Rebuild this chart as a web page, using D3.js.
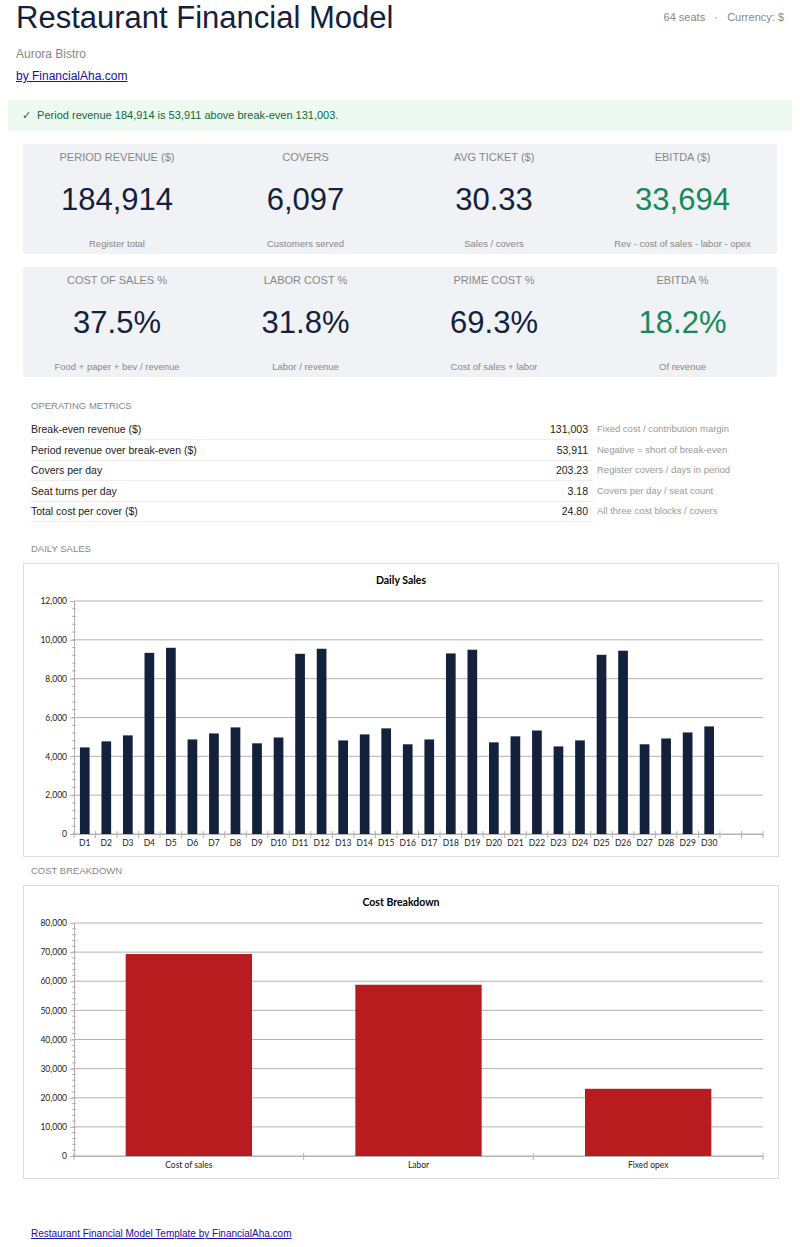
<!DOCTYPE html>
<html><head><meta charset="utf-8">
<script src="https://cdn.jsdelivr.net/npm/d3@7"></script>
<style>
body{margin:0;font-family:"Liberation Sans",Arial,sans-serif;background:#fff;width:800px;}
.wrap{position:relative;width:800px;height:1247px;}
h1{position:absolute;left:16px;top:0;margin:0;font-size:31px;font-weight:normal;color:#14213d;}
.meta{position:absolute;right:16px;top:11px;font-size:11px;color:#888;}
.sub{position:absolute;left:16px;top:47px;font-size:12px;color:#888;}
.by{position:absolute;left:16px;top:69px;font-size:12px;color:#1a0dab;text-decoration:underline;}
.alert{position:absolute;left:8px;top:100px;width:784px;height:31px;background:#eef9f1;color:#0b6b3a;font-size:11px;line-height:31px;box-sizing:border-box;padding-left:14px;}
.cards{position:absolute;left:23px;width:754px;height:110px;background:#f0f2f5;border-radius:3px;}
.card{position:absolute;top:0;width:188px;text-align:center;}
.card .t{position:absolute;top:7px;width:100%;font-size:11px;color:#888;}
.card .v{position:absolute;top:38px;width:100%;font-size:31px;color:#14213d;}
.card .s{position:absolute;top:94px;width:100%;font-size:9.5px;color:#888;}
.green{color:#148a57!important;}
.sec{position:absolute;left:31px;font-size:9.5px;color:#888;}
.row{position:absolute;left:31px;width:562px;height:20px;border-bottom:1px solid #eee;font-size:10.5px;color:#222;line-height:20px;}
.row .n{position:absolute;right:5px;}
.row .d{position:absolute;left:566px;width:200px;color:#999;font-size:9.5px;}
.box{position:absolute;left:23px;width:754px;border:1px solid #ddd;}
.foot{position:absolute;left:31px;top:1228px;font-size:10px;color:#1a0dab;text-decoration:underline;}
svg text{font-family:Lato,"Liberation Sans",sans-serif;}
</style></head><body><div class="wrap">
<h1>Restaurant Financial Model</h1>
<div class="meta">64 seats &nbsp; · &nbsp; Currency: $</div>
<div class="sub">Aurora Bistro</div>
<div class="by">by FinancialAha.com</div>
<div class="alert">✓ &nbsp;Period revenue 184,914 is 53,911 above break-even 131,003.</div>
<div class="cards" id="c1" style="top:144px"></div>
<div class="cards" id="c2" style="top:267px"></div>
<div class="sec" style="top:400px">OPERATING METRICS</div>
<div id="rows"></div>
<div class="sec" style="top:543px">DAILY SALES</div>
<div class="box" style="top:563px;height:292px"><svg id="daily" width="754" height="292"></svg></div>
<div class="sec" style="top:865px">COST BREAKDOWN</div>
<div class="box" style="top:885px;height:292px"><svg id="cost" width="754" height="292"></svg></div>
<div class="foot">Restaurant Financial Model Template by FinancialAha.com</div>
</div>
<script>
const kpiTitles1 = ["PERIOD REVENUE ($)", "COVERS", "AVG TICKET ($)", "EBITDA ($)"];
const kpiValues1 = ["184,914", "6,097", "30.33", "33,694"];
const kpiSubs1 = ["Register total", "Customers served", "Sales / covers", "Rev - cost of sales - labor - opex"];
const kpiTitles2 = ["COST OF SALES %", "LABOR COST %", "PRIME COST %", "EBITDA %"];
const kpiValues2 = ["37.5%", "31.8%", "69.3%", "18.2%"];
const kpiSubs2 = ["Food + paper + bev / revenue", "Labor / revenue", "Cost of sales + labor", "Of revenue"];
const metricNames = ["Break-even revenue ($)", "Period revenue over break-even ($)", "Covers per day", "Seat turns per day", "Total cost per cover ($)"];
const metricValues = ["131,003", "53,911", "203.23", "3.18", "24.80"];
const metricNotes = ["Fixed cost / contribution margin", "Negative = short of break-even", "Register covers / days in period", "Covers per day / seat count", "All three cost blocks / covers"];
const days = d3.range(1, 31).map(i => "D" + i);
const dailySales = [4460,4770,5080,9330,9590,4870,5180,5490,4670,4970,9280,9540,4820,5130,5440,4620,4870,9300,9490,4720,5030,5330,4510,4820,9230,9440,4620,4920,5230,5540];
const costCats = ["Cost of sales", "Labor", "Fixed opex"];
const costValues = [69343, 58803, 23074];

function cards(id, t, v, s) {
  const c = d3.select(id).selectAll(".card").data(t).join("div").attr("class", "card")
    .style("left", (d, i) => (i * 188.5) + "px");
  c.append("div").attr("class", "t").text(d => d);
  c.append("div").attr("class", (d, i) => "v" + (i === 3 ? " green" : "")).text((d, i) => v[i]);
  c.append("div").attr("class", "s").text((d, i) => s[i]);
}
cards("#c1", kpiTitles1, kpiValues1, kpiSubs1);
cards("#c2", kpiTitles2, kpiValues2, kpiSubs2);

const r = d3.select("#rows").selectAll(".row").data(metricNames).join("div").attr("class", "row")
  .style("top", (d, i) => (419 + i * 20.5) + "px");
r.append("span").text(d => d);
r.append("span").attr("class", "n").text((d, i) => metricValues[i]);
r.append("span").attr("class", "d").text((d, i) => metricNotes[i]);

function barChart(sel, title, cats, vals, slots, yMax, yStep, minorStep, color, pad) {
  const svg = d3.select(sel);
  const m = { l: 50, r: 15, t: 37, b: 22 };
  const w = 754 - m.l - m.r, h = 292 - m.t - m.b;
  svg.append("text").attr("x", 377).attr("y", 20).attr("text-anchor", "middle")
    .attr("font-size", 10.5).attr("font-weight", "bold").text(title);
  const g = svg.append("g").attr("transform", `translate(${m.l},${m.t})`);
  const x = d3.scaleBand().domain(slots).range([0, w]).paddingInner(pad).paddingOuter(pad / 2);
  const y = d3.scaleLinear().domain([0, yMax]).range([h, 0]);
  const major = d3.range(0, yMax + 1, yStep);
  g.append("g").selectAll("line").data(major).join("line")
    .attr("x1", 0).attr("x2", w).attr("y1", d => y(d)).attr("y2", d => y(d))
    .attr("stroke", "#b3b3b3");
  const ya = g.append("g").call(d3.axisLeft(y).tickValues(major).tickSize(4).tickFormat(d3.format(",")));
  ya.select(".domain").attr("stroke", "#b3b3b3");
  ya.selectAll("line").attr("stroke", "#b3b3b3");
  ya.selectAll("text").attr("font-size", 8.5).attr("fill", "#222");
  g.append("g").selectAll("line").data(d3.range(0, yMax, minorStep)).join("line")
    .attr("x1", -2).attr("x2", 2).attr("y1", d => y(d)).attr("y2", d => y(d)).attr("stroke", "#b3b3b3");
  g.selectAll("rect").data(vals).join("rect")
    .attr("x", (d, i) => x(slots[i])).attr("width", x.bandwidth())
    .attr("y", d => y(d)).attr("height", d => h - y(d)).attr("fill", color);
  const xa = g.append("g").attr("transform", `translate(0,${h})`)
    .call(d3.axisBottom(x).tickSize(0).tickFormat(d => cats.includes(d) ? d : ""));
  xa.select(".domain").attr("stroke", "#b3b3b3");
  xa.selectAll("text").attr("font-size", 8.5).attr("fill", "#222").attr("dy", "1.1em");
  const step = x.step();
  g.append("g").selectAll("line").data(d3.range(slots.length + 1)).join("line")
    .attr("x1", i => i * step).attr("x2", i => i * step).attr("y1", h - 3).attr("y2", h + 4)
    .attr("stroke", "#b3b3b3");
}
barChart("#daily", "Daily Sales", days, dailySales, days.concat(["_a", "_b"]), 12000, 2000, 400, "#14213d", 0.55);
barChart("#cost", "Cost Breakdown", costCats, costValues, costCats, 80000, 10000, 2000, "#b91c1f", 0.45);
</script></body></html>
